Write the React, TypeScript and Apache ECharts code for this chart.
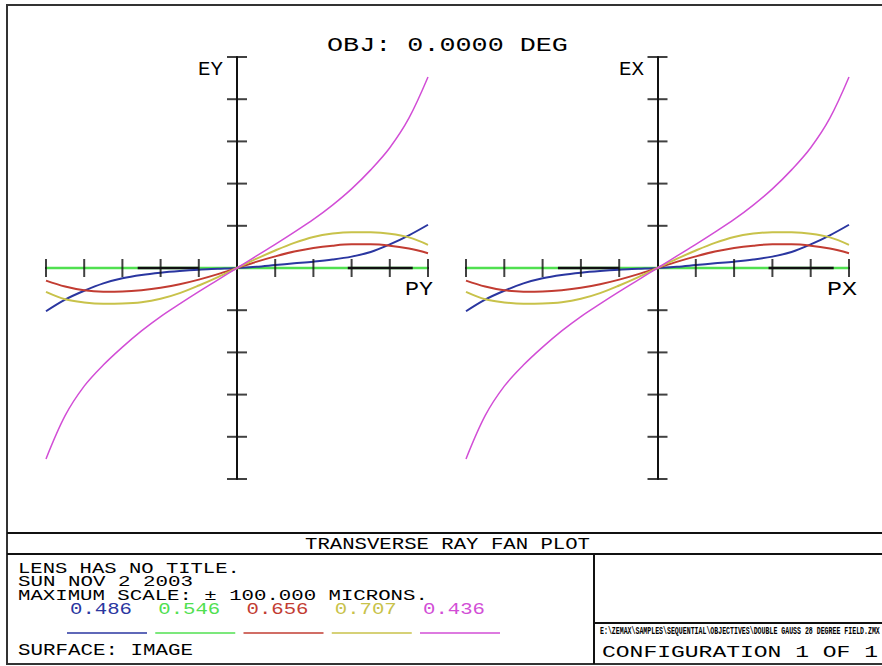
import React, { useEffect, useRef } from "react";
import * as echarts from "echarts";

// Relative pupil coordinate (PY / PX)
const PUPIL = [-1, -0.9, -0.8, -0.7, -0.6, -0.5, -0.4, -0.3, -0.2, -0.1, 0, 0.1, 0.2, 0.3, 0.4, 0.5, 0.6, 0.7, 0.8, 0.9, 1];

// Tangential fan EY (microns)
const EY_486 = [-20.5, -15, -10.8, -7.3, -4.9, -3.3, -2.2, -1.4, -0.8, -0.4, 0, 0.6, 1.4, 2.2, 3.0, 4.0, 5.4, 7.6, 11.2, 15.5, 20.5];
const EY_546 = [0, 0, 0, 0, 0, 0, 0, 0, 0, 0, 0, 0, 0, 0, 0, 0, 0, 0, 0, 0, 0];
const EY_656 = [-6, -8.8, -10.6, -11.2, -11.1, -10.5, -9.4, -7.7, -5.5, -2.9, 0, 2.9, 5.5, 7.8, 9.5, 10.6, 11.2, 11.2, 10.6, 9.2, 7];
const EY_707 = [-11.3, -14.8, -16.3, -16.9, -16.8, -16.2, -14.6, -11.9, -8.3, -4.3, 0, 4.3, 8.3, 11.9, 14.7, 16.3, 17, 16.9, 16.2, 14.5, 11];
const EY_436 = [-90.5, -70, -56, -46, -37.5, -29.8, -23, -17, -11.2, -5.6, 0, 5.6, 11.2, 17, 23, 29.8, 37.5, 46.5, 57, 71, 90.5];

// Sagittal fan EX (microns) - on axis, same as tangential
const EX_486 = [-20.5, -15, -10.8, -7.3, -4.9, -3.3, -2.2, -1.4, -0.8, -0.4, 0, 0.6, 1.4, 2.2, 3.0, 4.0, 5.4, 7.6, 11.2, 15.5, 20.5];
const EX_546 = [0, 0, 0, 0, 0, 0, 0, 0, 0, 0, 0, 0, 0, 0, 0, 0, 0, 0, 0, 0, 0];
const EX_656 = [-6, -8.8, -10.6, -11.2, -11.1, -10.5, -9.4, -7.7, -5.5, -2.9, 0, 2.9, 5.5, 7.8, 9.5, 10.6, 11.2, 11.2, 10.6, 9.2, 7];
const EX_707 = [-11.3, -14.8, -16.3, -16.9, -16.8, -16.2, -14.6, -11.9, -8.3, -4.3, 0, 4.3, 8.3, 11.9, 14.7, 16.3, 17, 16.9, 16.2, 14.5, 11];
const EX_436 = [-90.5, -70, -56, -46, -37.5, -29.8, -23, -17, -11.2, -5.6, 0, 5.6, 11.2, 17, 23, 29.8, 37.5, 46.5, 57, 71, 90.5];

const WAVELENGTHS = ["0.486", "0.546", "0.656", "0.707", "0.436"];
const COLORS = ["#2a36a0", "#50e050", "#c23c32", "#c8c24a", "#d24ed6"];

const X_TICKS = [-1, -0.8, -0.6, -0.4, -0.2, 0.2, 0.4, 0.6, 0.8, 1];
const Y_TICKS = [-100, -80, -60, -40, -20, 20, 40, 60, 80, 100];
// dark stretches of the pupil axis left visible under the green trace
const AXIS_DARK = [[-0.52, -0.2], [0.58, 0.92]];

const TITLE = "OBJ: 0.0000 DEG";
const INFO_LINES = ["LENS HAS NO TITLE.", "SUN NOV 2 2003", "MAXIMUM SCALE: \u00b1 100.000 MICRONS."];

const FONT = '"Liberation Mono", "DejaVu Sans Mono", monospace';

function txt(text: string, x: number, y: number, size: number, width: number, opts: any = {}) {
  const natural = text.length * 0.6 * size;
  const align = opts.align || "left";
  return {
    type: "text",
    x,
    y,
    scaleX: width / natural,
    silent: true,
    z: 10,
    style: {
      text,
      fill: opts.color || "#000",
      fontSize: size,
      fontFamily: FONT,
      fontWeight: opts.weight || "normal",
      textAlign: align,
      align,
      textVerticalAlign: "middle",
      verticalAlign: "middle",
    },
  };
}

function ln(x1: number, y1: number, x2: number, y2: number, color = "#111", w = 2) {
  return { type: "line", silent: true, z: 9, shape: { x1, y1, x2, y2 }, style: { stroke: color, lineWidth: w } };
}

export default function App() {
  const ref = useRef<HTMLDivElement>(null);
  useEffect(() => {
    if (!ref.current) return;
    const chart = echarts.init(ref.current, undefined, { renderer: "svg" });
    const fans = [
      [EY_486, EY_546, EY_656, EY_707, EY_436],
      [EX_486, EX_546, EX_656, EX_707, EX_436],
    ];
    const series: any[] = [];
    fans.forEach((set, g) => {
      set.forEach((vals, i) => {
        series.push({
          type: "line",
          xAxisIndex: g,
          yAxisIndex: g,
          data: PUPIL.map((p, k) => [p, vals[k]]),
          showSymbol: false,
          smooth: 0.35,
          z: i === 1 ? 2 : 3,
          lineStyle: { color: COLORS[i], width: i === 1 ? 2.5 : i === 4 ? 1.5 : 2 },
          silent: true,
        });
      });
      AXIS_DARK.forEach((seg) => {
        series.push({
          type: "line",
          xAxisIndex: g,
          yAxisIndex: g,
          data: [[seg[0], 0], [seg[1], 0]],
          showSymbol: false,
          z: 2.5,
          lineStyle: { color: "#111", width: 2.5 },
          silent: true,
        });
      });
      series.push({
        type: "scatter",
        xAxisIndex: g,
        yAxisIndex: g,
        data: X_TICKS.map((v) => [v, 0]),
        symbol: "rect",
        symbolSize: [2, 18],
        itemStyle: { color: "#111" },
        z: 5,
        silent: true,
      });
      series.push({
        type: "scatter",
        xAxisIndex: g,
        yAxisIndex: g,
        data: Y_TICKS.map((v) => [0, v]),
        symbol: "rect",
        symbolSize: [20, 2],
        itemStyle: { color: "#111" },
        z: 5,
        silent: true,
      });
    });

    const axisCommon = {
      type: "value",
      axisLine: { show: true, onZero: true, lineStyle: { color: "#111", width: 2 } },
      axisTick: { show: false },
      axisLabel: { show: false },
      splitLine: { show: false },
    };

    const graphic: any[] = [
      { type: "rect", silent: true, z: 9, shape: { x: 7, y: 5, width: 878, height: 659 }, style: { fill: "none", stroke: "#333", lineWidth: 2 } },
      ln(7, 533, 882, 533),
      ln(7, 554, 882, 554),
      ln(594, 554, 594, 664),
      ln(594, 623, 882, 623),
      txt(TITLE, 447.5, 45, 21, 241, { align: "center" }),
      txt("EY", 198, 69, 21, 25),
      txt("EX", 619, 69, 21, 25),
      txt("PY", 405, 289.5, 21, 28),
      txt("PX", 827, 289.5, 21, 30),
      txt("TRANSVERSE RAY FAN PLOT", 305, 544.5, 16.5, 285),
      txt(INFO_LINES[0], 18, 568.5, 15.5, 222),
      txt(INFO_LINES[1], 18, 582.5, 15.5, 175),
      txt(INFO_LINES[2], 18, 596, 15.5, 410),
      txt("SURFACE: IMAGE", 18, 651.5, 16, 175),
      txt("E:\\ZEMAX\\SAMPLES\\SEQUENTIAL\\OBJECTIVES\\DOUBLE GAUSS 28 DEGREE FIELD.ZMX", 600, 631, 11, 280, { weight: "bold" }),
      txt("CONFIGURATION 1 OF 1", 602, 652, 17, 276),
    ];
    WAVELENGTHS.forEach((w, i) => {
      const x0 = 67 + i * 88.25;
      graphic.push(txt(w, x0 + 3, 610.5, 16, 62, { color: COLORS[i] }));
      graphic.push(ln(x0, 633, x0 + 80, 633, COLORS[i], 1.5));
    });

    chart.setOption({
      animation: false,
      backgroundColor: "#fff",
      grid: [
        { left: 46, top: 57, width: 382, height: 422 },
        { left: 466, top: 57, width: 383, height: 422 },
      ],
      xAxis: [
        { ...axisCommon, gridIndex: 0, min: -1, max: 1 },
        { ...axisCommon, gridIndex: 1, min: -1, max: 1 },
      ],
      yAxis: [
        { ...axisCommon, gridIndex: 0, min: -100, max: 100 },
        { ...axisCommon, gridIndex: 1, min: -100, max: 100 },
      ],
      series,
      graphic,
    });
    return () => chart.dispose();
  }, []);
  return <div ref={ref} style={{ position: "fixed", left: 0, top: 0, width: 882, height: 666 }} />;
}
